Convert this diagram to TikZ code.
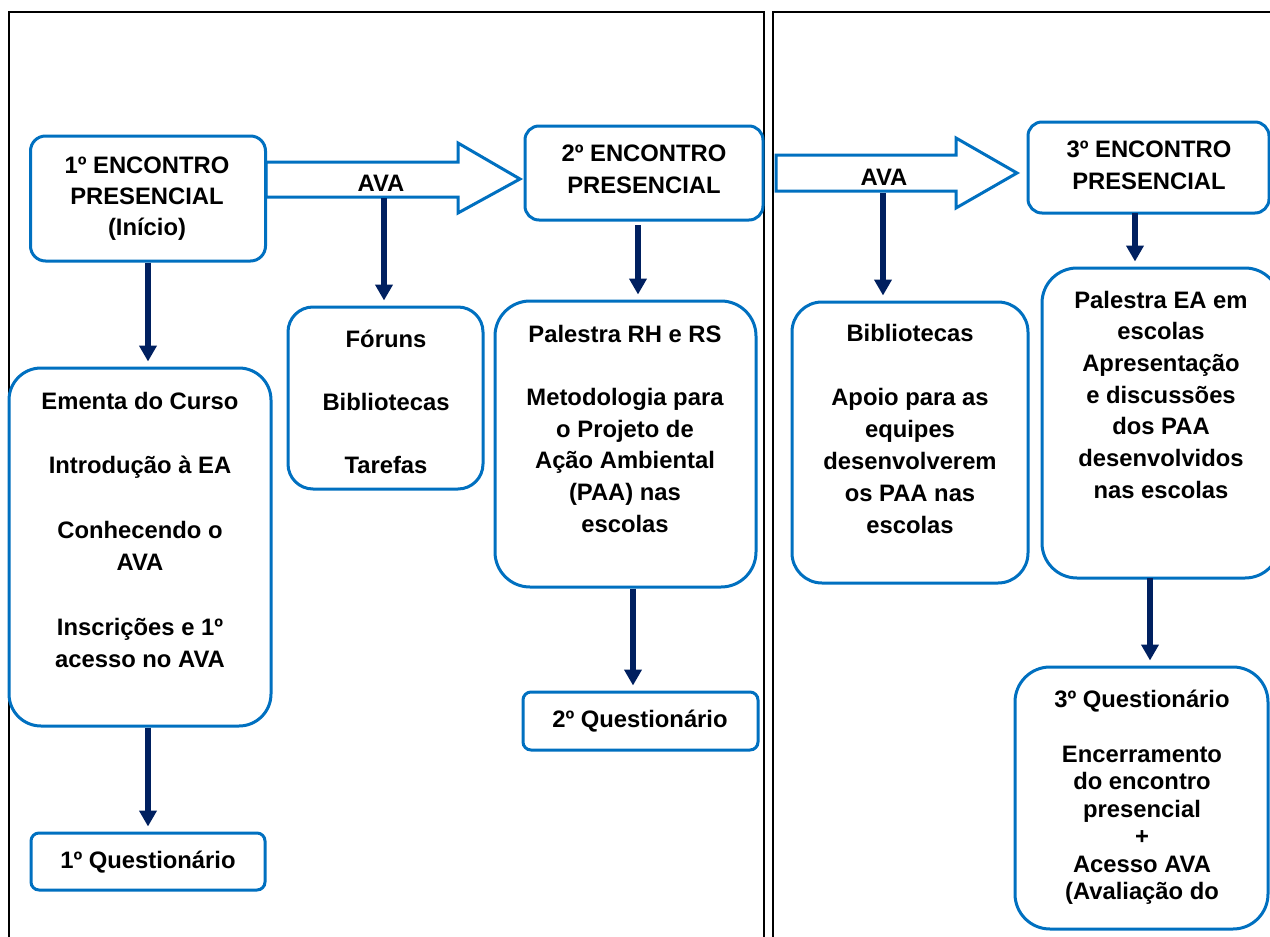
\documentclass[tikz,border=0pt]{standalone}
\usepackage{fontspec}
\setmainfont{Liberation Sans}
\usetikzlibrary{arrows.meta,calc}
\definecolor{boxblue}{RGB}{0,112,192}
\definecolor{navy}{RGB}{0,32,96}
\begin{document}
\begin{tikzpicture}[x=1pt,y=-1pt,
  box/.style={draw=boxblue, line width=3pt, fill=white, inner sep=0pt},
  conn/.style={draw=navy, line width=5.5pt, -{Triangle[width=17pt,length=16pt]}, shorten >=5pt},
  bigarrow/.style={draw=boxblue, line width=3pt, fill=white, line join=miter},
  panel/.style={draw=black, line width=2pt},
  txt/.style={anchor=base, inner sep=0pt, font=\bfseries\fontsize{23.8}{#1}\selectfont},
  txt/.default=32
]
\useasboundingbox (0,0) rectangle (1270,937);
\clip (0,0) rectangle (1270,937);
\fill[white] (0,0) rectangle (1270,937);

% panels
\draw[panel] (9,12) rectangle (764,950);
\draw[panel] (773,12) rectangle (1290,950);

% big arrows
\draw[bigarrow] (266,162) -- (458,162) -- (458,143) -- (520,179) -- (458,213) -- (458,197) -- (266,197) -- cycle;
\draw[bigarrow] (776,155) -- (956,155) -- (956,138) -- (1017,173) -- (956,208) -- (956,191) -- (776,191) -- cycle;
\node[txt] (ava1) at (381,191) {AVA};
\node[txt] (ava2) at (884,185) {AVA};

% boxes
\node[box, rounded corners=15pt, minimum width=235pt, minimum height=125pt] (A) at (148,198.5) {};
\node[box, rounded corners=32pt, minimum width=262pt, minimum height=358pt] (B) at (140,547) {};
\node[box, rounded corners=8pt, minimum width=234pt, minimum height=57pt] (C) at (148,861.5) {};
\node[box, rounded corners=25pt, minimum width=195pt, minimum height=182pt] (D) at (385.5,398) {};
\node[box, rounded corners=14pt, minimum width=238pt, minimum height=94pt] (E) at (644,173) {};
\node[box, rounded corners=35pt, minimum width=261pt, minimum height=286pt] (F) at (625.5,444) {};
\node[box, rounded corners=8pt, minimum width=235pt, minimum height=58pt] (G) at (640.5,721) {};
\node[box, rounded corners=30pt, minimum width=236pt, minimum height=281pt] (H) at (910,442.5) {};
\node[box, rounded corners=14pt, minimum width=241pt, minimum height=91pt] (I) at (1148.5,167.5) {};
\node[box, rounded corners=35pt, minimum width=238pt, minimum height=310pt] (J) at (1161,423) {};
\node[box, rounded corners=35pt, minimum width=253pt, minimum height=262pt] (K) at (1141.5,798) {};

% texts
\node[txt=31] (At) at (147,173) {\parbox[t]{230pt}{\centering 1º ENCONTRO\\PRESENCIAL\\(Início)}};
\node[txt=32.3] (Bt) at (140,409) {\parbox[t]{250pt}{\centering Ementa do Curso\\[32.3pt]Introdução à EA\\[32.3pt]Conhecendo o\\AVA\\[32.3pt]Inscrições e 1º\\acesso no AVA}};
\node[txt] (Ct) at (148,868) {1º Questionário};
\node[txt=31.5] (Dt) at (386,347) {\parbox[t]{190pt}{\centering Fóruns\\[31.5pt]Bibliotecas\\[31.5pt]Tarefas}};
\node[txt=32] (Et) at (644,161) {\parbox[t]{230pt}{\centering 2º ENCONTRO\\PRESENCIAL}};
\node[txt=31.7] (Ft) at (625,342) {\parbox[t]{250pt}{\centering Palestra RH e RS\\[31.7pt]Metodologia para\\o Projeto de\\Ação Ambiental\\(PAA) nas\\escolas}};
\node[txt] (Gt) at (640,727) {2º Questionário};
\node[txt=32] (Ht) at (910,341) {\parbox[t]{230pt}{\centering Bibliotecas\\[32pt]Apoio para as\\equipes\\desenvolverem\\os PAA nas\\escolas}};
\node[txt=32] (It) at (1149,157) {\parbox[t]{235pt}{\centering 3º ENCONTRO\\PRESENCIAL}};
\node[txt=31.7] (Jt) at (1161,308) {\parbox[t]{235pt}{\centering Palestra EA em\\escolas\\Apresentação\\e discussões\\dos PAA\\desenvolvidos\\nas escolas}};
\node[txt=27.5] (Kt) at (1142,707) {\parbox[t]{245pt}{\centering 3º Questionário\\[27.5pt]Encerramento\\do encontro\\presencial\\+\\Acesso AVA\\(Avaliação do}};

% connectors
\coordinate (a1) at (384,198);
\coordinate (e1) at (638,225);
\coordinate (fg) at ($(F.south)!0.5!(G.north)$);
\coordinate (a2) at (883,193);
\coordinate (i1) at (1135,213);
\coordinate (j1) at (1150,578);
\draw[conn] (A.south) -- (A.south |- B.north);
\draw[conn] (C.north |- B.south) -- (C.north);
\draw[conn] (a1) -- (a1 |- D.north);
\draw[conn] (e1) -- (e1 |- F.north);
\draw[conn] (fg |- F.south) -- (fg |- G.north);
\draw[conn] (a2) -- (a2 |- H.north);
\draw[conn] (i1) -- (i1 |- J.north);
\draw[conn] (j1) -- (j1 |- K.north);
\end{tikzpicture}
\end{document}
